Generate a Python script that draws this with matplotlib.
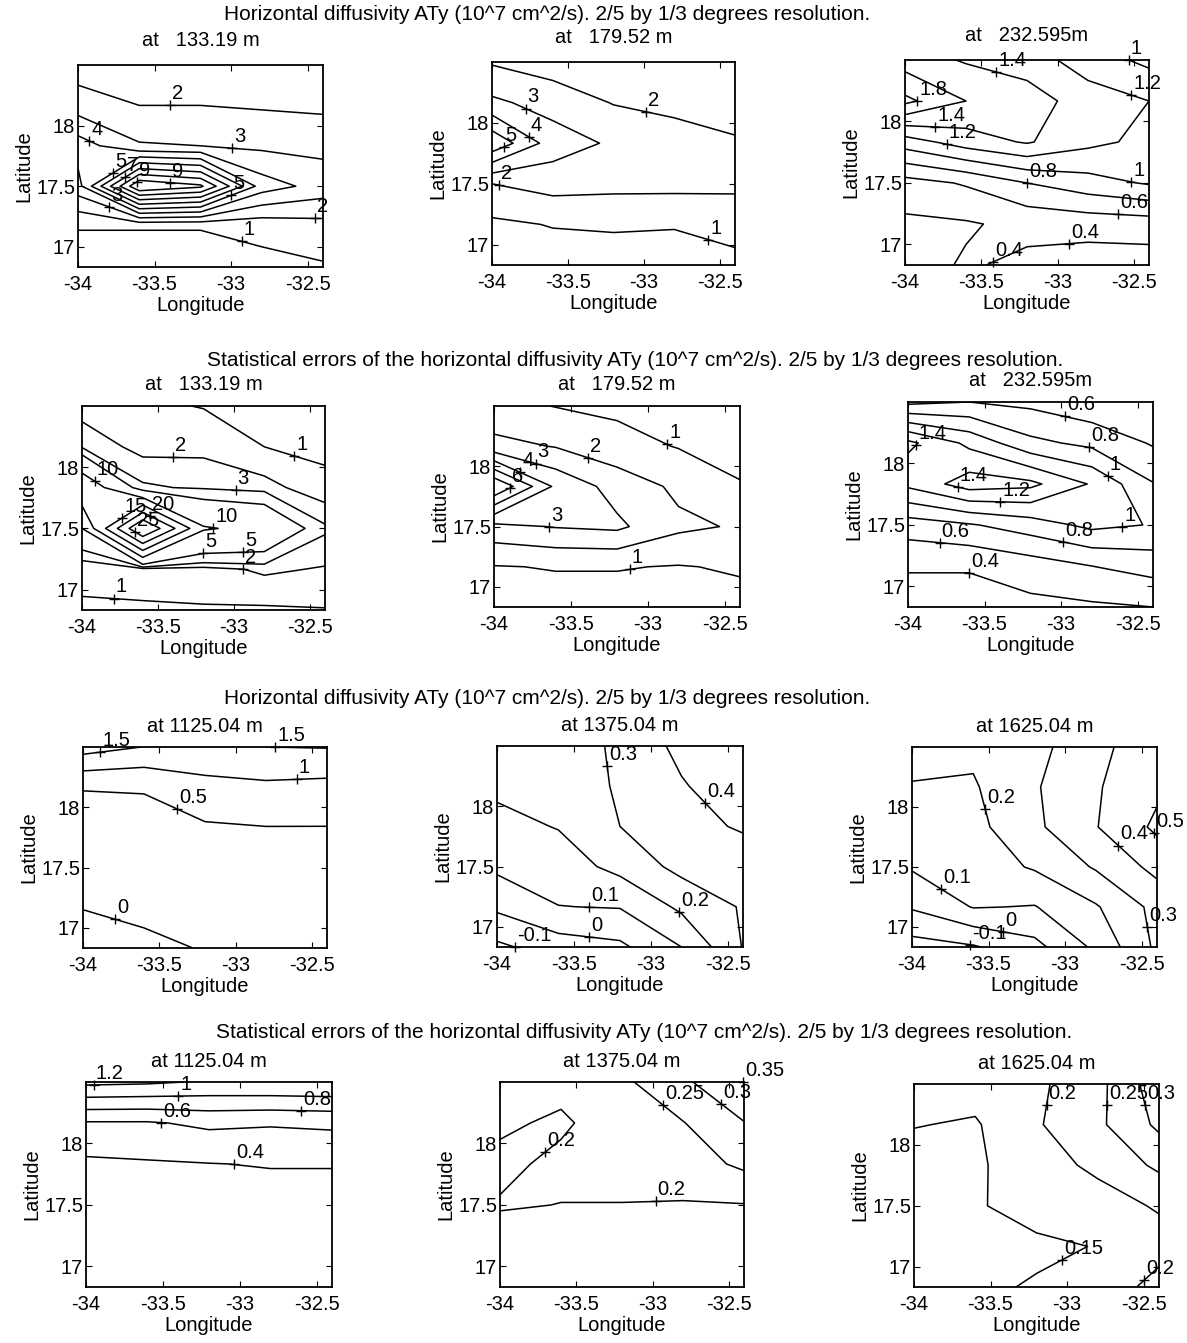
import numpy as np
import matplotlib
matplotlib.use("Agg")
import matplotlib.pyplot as plt
from matplotlib.transforms import ScaledTranslation

plt.rcParams['font.family'] = ['Liberation Sans', 'DejaVu Sans']

# grid: 2/5 deg in longitude, 1/3 deg in latitude
lon = [-34.0, -33.6, -33.2, -32.8, -32.4]
lat = [16.8333, 17.1667, 17.5, 17.8333, 18.1667, 18.5]

# fields, rows south -> north, columns west -> east (10^7 cm^2/s)
aty_133 = [[0.5, 0.5, 0.5, 0.7, 0.9],
           [1.05, 1.05, 1.05, 1.3, 1.6],
           [3.6, 10.0, 9.2, 4.5, 3.6],
           [4.5, 3.1, 3.0, 2.8, 2.7],
           [2.5, 2.0, 2.0, 1.9, 1.8],
           [1.5, 1.4, 1.3, 1.2, 1.1]]
aty_179 = [[0.4, 0.5, 0.6, 0.65, 0.7],
           [0.8, 1.05, 1.1, 1.05, 1.4],
           [2.0, 2.4, 2.3, 2.3, 2.2],
           [5.8, 3.5, 2.85, 2.5, 2.1],
           [3.2, 2.6, 1.95, 1.7, 1.6],
           [1.9, 1.5, 1.4, 1.3, 1.2]]
aty_232 = [[0.32, 0.42, 0.36, 0.3, 0.3],
           [0.36, 0.38, 0.45, 0.48, 0.5],
           [0.52, 0.62, 0.8, 0.92, 1.02],
           [1.1, 1.3, 1.42, 1.25, 1.15],
           [1.85, 1.6, 1.5, 1.3, 1.2],
           [1.5, 1.38, 1.3, 1.1, 0.95]]
err_133 = [[0.9, 0.85, 0.9, 0.85, 0.95],
           [1.2, 1.5, 1.6, 2.2, 1.9],
           [5.0, 30.8, 10.4, 8.7, 3.2],
           [14.0, 3.2, 2.8, 2.4, 1.3],
           [2.8, 1.6, 1.7, 1.0, 0.75],
           [1.5, 1.2, 0.95, 0.75, 0.6]]
err_179 = [[0.7, 0.6, 0.6, 0.6, 0.7],
           [0.95, 1.05, 1.05, 0.95, 1.1],
           [2.7, 3.05, 3.2, 2.2, 1.9],
           [7.0, 3.8, 2.6, 1.8, 1.05],
           [2.3, 1.95, 1.35, 0.95, 0.75],
           [1.3, 0.97, 0.8, 0.6, 0.55]]
err_232 = [[0.3, 0.3, 0.35, 0.37, 0.4],
           [0.42, 0.42, 0.5, 0.6, 0.68],
           [0.7, 0.78, 0.9, 1.05, 0.99],
           [1.25, 1.5, 1.45, 1.18, 0.81],
           [1.45, 1.15, 0.85, 0.75, 0.58],
           [0.55, 0.6, 0.55, 0.45, 0.4]]
aty_1125 = [[-0.2, -0.1, 0.025, 0.1, 0.1],
            [0.01, 0.1, 0.2, 0.25, 0.25],
            [0.25, 0.3, 0.3, 0.3, 0.3],
            [0.4, 0.4, 0.45, 0.49, 0.49],
            [0.51, 0.52, 0.8, 0.9, 0.85],
            [1.72, 1.49, 1.48, 1.5, 1.52]]
aty_1375 = [[-0.12, -0.05, -0.02, 0.1, 0.305],
            [0.02, 0.098, 0.105, 0.22, 0.31],
            [0.12, 0.15, 0.23, 0.33, 0.35],
            [0.17, 0.205, 0.3, 0.37, 0.41],
            [0.22, 0.25, 0.31, 0.39, 0.47],
            [0.26, 0.27, 0.31, 0.43, 0.5]]
aty_1625 = [[-0.14, -0.11, -0.03, 0.12, 0.32],
            [0.01, 0.105, 0.095, 0.19, 0.33],
            [0.11, 0.15, 0.21, 0.31, 0.43],
            [0.17, 0.17, 0.28, 0.395, 0.52],
            [0.195, 0.19, 0.29, 0.39, 0.48],
            [0.23, 0.22, 0.27, 0.37, 0.47]]
err_1125 = [[0.22, 0.22, 0.22, 0.22, 0.22],
            [0.26, 0.26, 0.27, 0.27, 0.27],
            [0.31, 0.31, 0.32, 0.32, 0.32],
            [0.36, 0.38, 0.395, 0.41, 0.41],
            [0.58, 0.58, 0.64, 0.62, 0.64],
            [1.25, 1.23, 1.18, 1.19, 1.2]]
err_1375 = [[0.15, 0.15, 0.15, 0.15, 0.15],
            [0.17, 0.17, 0.175, 0.175, 0.175],
            [0.205, 0.199, 0.199, 0.197, 0.198],
            [0.185, 0.215, 0.215, 0.225, 0.26],
            [0.21, 0.19, 0.235, 0.248, 0.298],
            [0.23, 0.22, 0.24, 0.29, 0.351]]
err_1625 = [[0.105, 0.14, 0.155, 0.165, 0.22],
            [0.11, 0.12, 0.14, 0.152, 0.18],
            [0.12, 0.145, 0.17, 0.18, 0.205],
            [0.13, 0.142, 0.18, 0.21, 0.26],
            [0.152, 0.145, 0.195, 0.24, 0.31],
            [0.16, 0.17, 0.19, 0.235, 0.33]]

levels_133 = [1, 2, 3, 4, 5, 6, 7, 8, 9]
levels_179 = [1, 2, 3, 4, 5]
levels_232 = [0.4, 0.6, 0.8, 1.0, 1.2, 1.4, 1.6, 1.8]
levels_err133 = [1, 2, 3, 5, 10, 15, 20, 25]
levels_err179 = [1, 2, 3, 4, 5, 6]
levels_err232 = [0.4, 0.6, 0.8, 1.0, 1.2, 1.4]
levels_1125 = [0, 0.5, 1, 1.5]
levels_1375 = [-0.1, 0, 0.1, 0.2, 0.3, 0.4]
levels_1625 = [-0.1, 0, 0.1, 0.2, 0.3, 0.4, 0.5]
levels_err1125 = [0.4, 0.6, 0.8, 1.0, 1.2]
levels_err1375 = [0.2, 0.25, 0.3, 0.35]
levels_err1625 = [0.15, 0.2, 0.25, 0.3]

titles_top = ["at   133.19 m", "at   179.52 m", "at   232.595m"]
titles_deep = ["at 1125.04 m", "at 1375.04 m", "at 1625.04 m"]
row_titles = [
    "Horizontal diffusivity ATy (10^7 cm^2/s). 2/5 by 1/3 degrees resolution.",
    "Statistical errors of the horizontal diffusivity ATy (10^7 cm^2/s). 2/5 by 1/3 degrees resolution.",
    "Horizontal diffusivity ATy (10^7 cm^2/s). 2/5 by 1/3 degrees resolution.",
    "Statistical errors of the horizontal diffusivity ATy (10^7 cm^2/s). 2/5 by 1/3 degrees resolution.",
]

# where the contour labels were put (clabel snaps each hint to the nearest line)
hints_133 = [(-33.4, 18.16), (-32.99, 17.84), (-33.93, 17.86), (-33.78, 17.63), (-33.69, 17.57),
             (-33.6, 17.51), (-33.4, 17.54), (-33.0, 17.43), (-33.79, 17.35), (-32.92, 17.09),
             (-32.45, 17.2)]
hints_179 = [(-33.8, 18.06), (-32.99, 18.08), (-33.93, 17.82), (-33.76, 17.88), (-33.95, 17.52),
             (-32.56, 17.11)]
hints_232 = [(-32.6, 18.42), (-33.41, 18.36), (-32.54, 18.13), (-33.86, 18.18), (-33.8, 18.02),
             (-33.73, 17.8), (-33.2, 17.51), (-32.52, 17.5), (-32.6, 17.3), (-32.93, 17.07),
             (-33.43, 16.88)]
hints_err133 = [(-32.6, 18.11), (-33.4, 18.07), (-33.92, 17.88), (-32.99, 17.79), (-33.75, 17.61),
                (-33.55, 17.6), (-33.64, 17.49), (-33.13, 17.54), (-32.94, 17.4), (-33.2, 17.28),
                (-32.94, 17.13), (-33.79, 16.96)]
hints_err179 = [(-32.89, 18.14), (-33.4, 18.02), (-33.73, 18.02), (-33.83, 17.95), (-33.89, 17.8),
                (-33.64, 17.49), (-33.12, 17.17)]
hints_err232 = [(-32.97, 18.42), (-32.82, 18.13), (-32.7, 17.89), (-33.93, 18.13), (-33.68, 17.79),
                (-33.4, 17.67), (-32.6, 17.46), (-32.99, 17.35), (-33.79, 17.4), (-33.6, 17.14)]
hints_1125 = [(-33.89, 18.47), (-32.74, 18.49), (-32.6, 18.26), (-33.36, 18.05), (-33.79, 17.07)]
hints_1375 = [(-33.33, 18.33), (-32.67, 18.0), (-32.79, 17.17), (-33.4, 17.14), (-33.4, 16.94),
              (-33.83, 16.86)]
hints_1625 = [(-33.49, 17.99), (-32.68, 17.64), (-32.42, 17.78), (-33.81, 17.31), (-33.4, 17.01),
              (-33.62, 16.85), (-32.52, 16.99)]
hints_err1125 = [(-33.95, 18.49), (-33.4, 18.39), (-32.6, 18.27), (-33.51, 18.17), (-33.04, 17.82)]
hints_err1375 = [(-33.66, 17.86), (-32.98, 17.52), (-32.91, 18.34), (-32.55, 18.32), (-32.41, 18.5)]
hints_err1625 = [(-33.15, 18.33), (-32.71, 18.33), (-32.49, 18.33), (-32.99, 16.95), (-32.51, 16.91)]

panels = [
    [(aty_133, levels_133, hints_133), (aty_179, levels_179, hints_179),
     (aty_232, levels_232, hints_232)],
    [(err_133, levels_err133, hints_err133), (err_179, levels_err179, hints_err179),
     (err_232, levels_err232, hints_err232)],
    [(aty_1125, levels_1125, hints_1125), (aty_1375, levels_1375, hints_1375),
     (aty_1625, levels_1625, hints_1625)],
    [(err_1125, levels_err1125, hints_err1125), (err_1375, levels_err1375, hints_err1375),
     (err_1625, levels_err1625, hints_err1625)],
]
row_panel_titles = [titles_top, titles_top, titles_deep, titles_deep]

# layout in pixels (left, top, right, bottom)
W, H = 1187, 1343
boxes = [
    [(78, 65, 323, 267), (492, 62, 735, 265), (905, 60, 1149, 265)],
    [(82, 406, 325, 610), (494, 406, 740, 607), (908, 402, 1153, 607)],
    [(83, 747, 327, 948), (497, 746, 743, 947), (912, 747, 1157, 947)],
    [(86, 1082, 332, 1287), (500, 1082, 744, 1287), (914, 1084, 1159, 1287)],
]
title_pads = [14, 11.5, 11, 11]
row_title_pos = [(547, 15), (635, 361), (547, 698), (644, 1033)]
FS = 14.5

fig = plt.figure(figsize=(W / 100, H / 100), dpi=100)
off = ScaledTranslation(1.5 / 72, 1.5 / 72, fig.dpi_scale_trans)

for r in range(4):
    x, y = row_title_pos[r]
    fig.text(x / W, 1 - y / H, row_titles[r], ha='center', va='center', fontsize=15)
    for c in range(3):
        l, t, rr, b = boxes[r][c]
        ax = fig.add_axes([l / W, 1 - b / H, (rr - l) / W, (b - t) / H])
        z, levels, hints = panels[r][c]
        cs = ax.contour(lon, lat, np.array(z), levels=levels, colors='k', linewidths=1.1,
                        negative_linestyles='solid')
        ax.set_xlim(lon[0], lon[-1])
        ax.set_ylim(lat[0], lat[-1])
        texts = ax.clabel(cs, inline=False, fontsize=FS, fmt='%g', manual=hints)
        for txt in texts:
            px, py = txt.get_position()
            ax.plot(px, py, marker='+', color='k', ms=7, mew=1.0, clip_on=False)
            txt.set_rotation(0)
            txt.set_ha('left')
            txt.set_va('bottom')
            txt.set_transform(ax.transData + off)
            txt.set_clip_on(False)
        ax.set_xlim(lon[0], lon[-1])
        ax.set_ylim(lat[0], lat[-1])
        ax.set_xticks([-34, -33.5, -33, -32.5])
        ax.set_xticklabels(['-34', '-33.5', '-33', '-32.5'])
        ax.set_yticks([17, 17.5, 18])
        ax.set_yticklabels(['17', '17.5', '18'])
        ax.tick_params(direction='in', length=4, top=True, right=True, labelsize=FS)
        ax.tick_params(axis='x', pad=6)
        ax.tick_params(axis='y', pad=2)
        for s in ax.spines.values():
            s.set_linewidth(1.3)
        ax.set_xlabel('Longitude', fontsize=FS, labelpad=1)
        ax.set_ylabel('Latitude', fontsize=FS, labelpad=2)
        ax.set_title(row_panel_titles[r][c], fontsize=FS, pad=title_pads[r])

fig.savefig('out.png', dpi=100)
